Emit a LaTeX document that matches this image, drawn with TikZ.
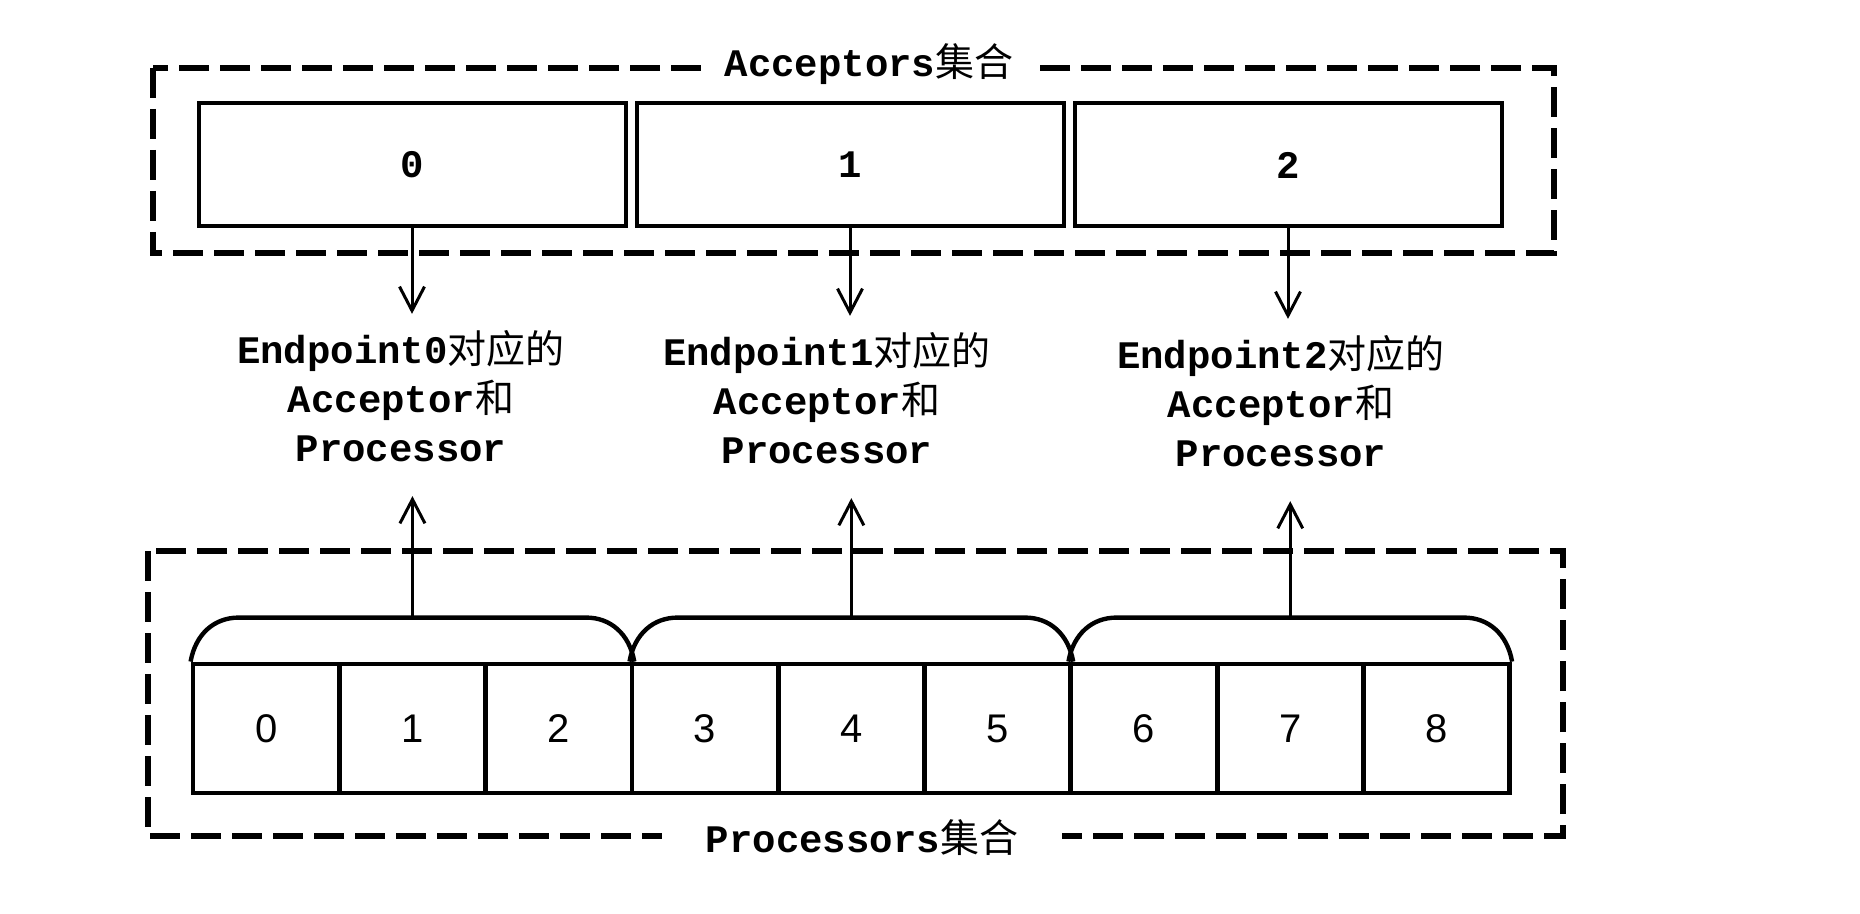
\documentclass[tikz,border=0pt]{standalone}
\usepackage{fontspec}
\setmainfont{Liberation Sans}
\setmonofont{Liberation Mono}
\newfontfamily\cjk{Noto Sans CJK SC}
\newcommand{\zh}[1]{{\cjk\mdseries #1}}
\usetikzlibrary{arrows.meta,positioning}

\tikzset{
  dashbox/.style={draw, line width=2.6pt, dash pattern=on 15pt off 5.5pt},
  accbox/.style={draw, line width=2pt, minimum width=213.5pt, minimum height=61.5pt,
    inner sep=0pt, font=\ttfamily\bfseries\fontsize{19.5}{24}\selectfont},
  cell/.style={draw, line width=2.4pt, minimum width=73.15pt, minimum height=64.5pt,
    inner sep=0pt, font=\fontsize{20}{24}\selectfont},
  arch/.style={line width=2.2pt},
  settitle/.style={fill=white, inner xsep=12pt, inner ysep=2pt,
    font=\ttfamily\bfseries\fontsize{19.5}{24}\selectfont},
  pairlabel/.style={align=center, inner sep=0pt,
    font=\ttfamily\bfseries\fontsize{19.5}{24.5}\selectfont},
  link/.style={line width=1.5pt, -{Straight Barb[length=12pt,width=12.5pt,line width=1.5pt]}}
}

\begin{document}
\begin{tikzpicture}[x=0.5pt, y=-0.5pt]
\useasboundingbox (0,0) rectangle (1860,914);

% Acceptors set
\draw[dashbox] (153,68) rectangle (1554,253);
\node[settitle] (acctitle) at (869,64) {Acceptors\zh{集合}};
\foreach \i in {0,1,2}
  \node[accbox] (acc\i) at (412+438*\i,165) {\i};

% Endpoint labels
\node[pairlabel] (lab0) at (401,396) {Endpoint0\zh{对应的}\\Acceptor\zh{和}\\Processor};
\node[pairlabel] (lab1) at (827,398) {Endpoint1\zh{对应的}\\Acceptor\zh{和}\\Processor};
\node[pairlabel] (lab2) at (1281,401) {Endpoint2\zh{对应的}\\Acceptor\zh{和}\\Processor};

\foreach \i in {0,1,2}
  \draw[link, shorten >=8pt] (acc\i.south) -- (acc\i.south |- lab\i.north);

% Processors set
\draw[dashbox] (148,551) rectangle (1563,836);
\node[settitle, inner xsep=22pt] (proctitle) at (862,838) {Processors\zh{集合}};
\foreach \i in {0,...,8}
  \node[cell] (cell\i) at (266.15+146.3*\i,728.5) {\i};

% arches over each group of three
\foreach \g/\a/\m/\b in {0/0/1/2, 1/3/4/5, 2/6/7/8} {
  \draw[arch] (cell\a.north west) .. controls +(5,-28) and +(-24,0) .. ([shift={(48,-44)}]cell\a.north west)
    -- ([shift={(-48,-44)}]cell\b.north east) .. controls +(24,0) and +(-5,-28) .. (cell\b.north east);
  \coordinate (arch\g) at ([yshift=22pt]cell\m.north);
  \draw[link, shorten >=17pt] (arch\g) -- (arch\g |- lab\g.south);
}

\end{tikzpicture}
\end{document}
